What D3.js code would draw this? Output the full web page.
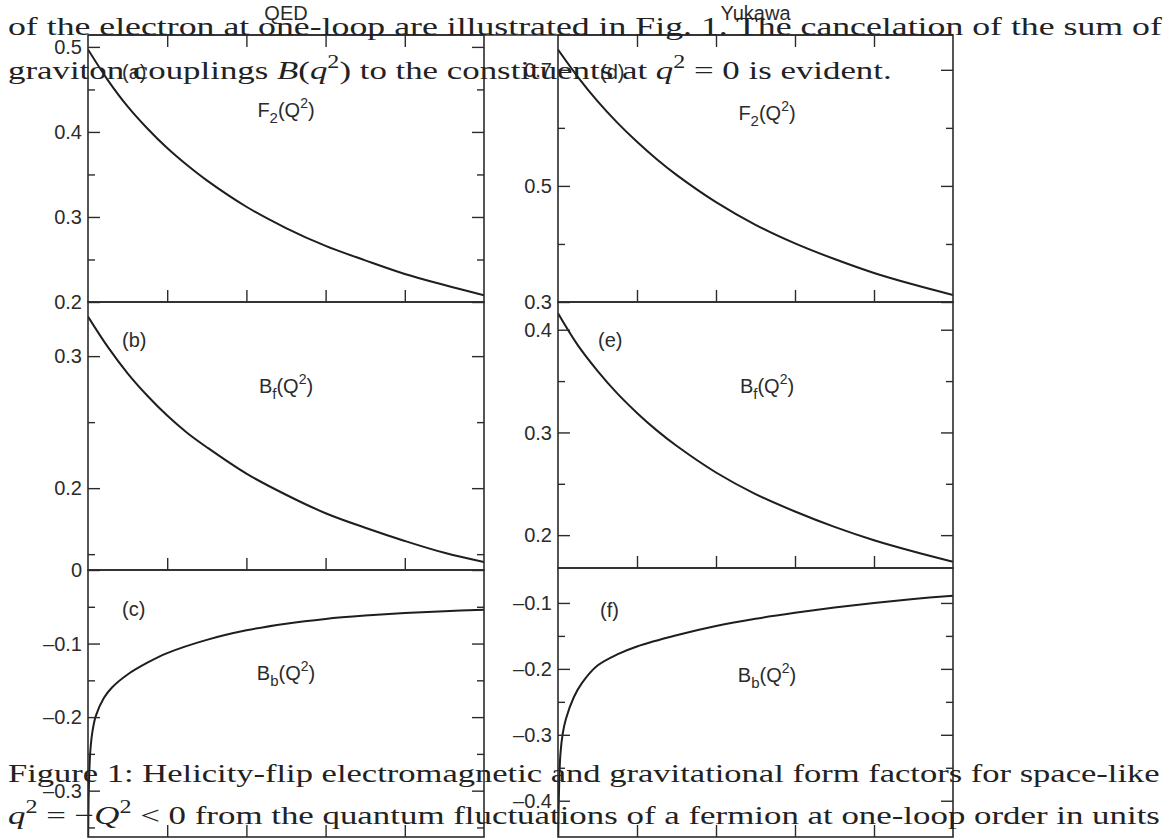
<!DOCTYPE html>
<html>
<head>
<meta charset="utf-8">
<script src="https://cdn.jsdelivr.net/npm/d3@7"></script>
<style>
  html, body { margin: 0; padding: 0; background: #fff; }
  svg { display: block; }
  .axis-text { font-family: "Liberation Sans", Arial, sans-serif; font-size: 20px; fill: #2b2b2b; }
  .body-text { font-family: "Liberation Serif", "Times New Roman", serif; font-size: 26px; fill: #222; }
</style>
</head>
<body>
<svg id="chart" width="1173" height="838"></svg>
<script>
//data
const qGrid = [0, 0.25, 0.5, 0.75, 1, 1.25, 1.5, 2, 2.5, 3, 3.5, 4, 4.5, 5];
const f2QED = [0.497, 0.461, 0.430, 0.404, 0.381, 0.361, 0.343, 0.312, 0.287, 0.266, 0.249, 0.233, 0.220, 0.208];
const bfQED = [0.330, 0.307, 0.287, 0.270, 0.255, 0.242, 0.231, 0.211, 0.195, 0.181, 0.170, 0.160, 0.151, 0.144];
const f2Yukawa = [0.735, 0.688, 0.646, 0.609, 0.576, 0.546, 0.519, 0.472, 0.433, 0.401, 0.374, 0.350, 0.330, 0.312];
const bfYukawa = [0.416, 0.385, 0.360, 0.338, 0.319, 0.302, 0.287, 0.261, 0.240, 0.223, 0.208, 0.195, 0.184, 0.174];

const qGridB = [0.002, 0.01, 0.03, 0.06, 0.1, 0.2, 0.3, 0.5, 0.75, 1, 1.5, 2, 2.5, 3, 3.5, 4, 4.5, 5];
const bbQED = [-0.37, -0.30, -0.245, -0.217, -0.198, -0.174, -0.160, -0.142, -0.126, -0.113, -0.095, -0.082, -0.073, -0.0665, -0.062, -0.0585, -0.056, -0.054];
const bbYukawa = [-0.47, -0.40, -0.33, -0.298, -0.276, -0.243, -0.222, -0.195, -0.178, -0.166, -0.149, -0.135, -0.124, -0.115, -0.107, -0.100, -0.094, -0.089];

const xDomain = [0, 5];
const xTicks = [1, 2, 3, 4];

// panels a..f
const panelLetters = ['(a)', '(b)', '(c)', '(d)', '(e)', '(f)'];
const panelNames = ['F', 'B', 'B', 'F', 'B', 'B'];
const panelSubs = ['2', 'f', 'b', '2', 'f', 'b'];
const columnTitles = ['QED', 'Yukawa'];
const yDomains = [[0.2, 0.514], [0.138, 0.341], [-0.363, 0], [0.3, 0.76], [0.168, 0.427], [-0.455, -0.047]];
const yMajors = [[0.2, 0.3, 0.4, 0.5], [0.2, 0.3], [-0.3, -0.2, -0.1, 0], [0.3, 0.5, 0.7], [0.2, 0.3, 0.4], [-0.4, -0.3, -0.2, -0.1]];
const yMinors = [[0.25, 0.35, 0.45], [0.15, 0.25], [-0.35, -0.25, -0.15, -0.05], [0.4, 0.6], [0.25, 0.35], [-0.35, -0.25, -0.15]];
const curveX = [qGrid, qGrid, qGridB, qGrid, qGrid, qGridB];
const curveY = [f2QED, bfQED, bbQED, f2Yukawa, bfYukawa, bbYukawa];

// page text around the figure
const textTop1 = [['of the electron at one-loop are illustrated in Fig. 1. The cancelation of the sum of']];
const textTop2 = [['graviton couplings '], ['B', 'i'], ['('], ['q', 'i'], ['2', 'sup'], [') to the constituents at '], ['q', 'i'], ['2', 'sup'], [' = 0 is evident.']];
const textBot1 = [['Figure 1:  Helicity-flip electromagnetic and gravitational form factors for space-like']];
const textBot2 = [['q', 'i'], ['2', 'sup'], [' = −'], ['Q', 'i'], ['2', 'sup'], [' < 0 from the quantum fluctuations of a fermion at one-loop order in units']];

//layout
const cols = [{ x0: 88, x1: 484 }, { x0: 558, x1: 953 }];
const rows = [[35, 302, 570, 837], [35, 302, 568, 837]];
const letterPos = [[34, 44], [34, 45], [34, 46], [42, 44], [40, 45], [42, 49]];
const namePos = [[286, 82], [286, 91], [286, 110], [767, 85], [767, 91], [767, 114]];
const ink = '#2b2b2b';
const majorLen = 12, minorLen = 7;

const svg = d3.select('#chart');
const defs = svg.append('defs');
const fmt = d => d === 0 ? '0' : (d < 0 ? '–' : '') + d3.format('.1f')(Math.abs(d));

//panels
for (let i = 0; i < 6; i++) {
  const c = Math.floor(i / 3), r = i % 3;
  const { x0, x1 } = cols[c];
  const top = rows[c][r], bot = rows[c][r + 1];

  const x = d3.scaleLinear().domain(xDomain).range([x0, x1]);
  const y = d3.scaleLinear().domain(yDomains[i]).range([bot, top]);

  const g = svg.append('g').attr('class', 'panel');

  defs.append('clipPath').attr('id', 'clip' + i)
    .append('rect').attr('x', x0).attr('y', top).attr('width', x1 - x0).attr('height', bot - top);

  // curve
  const pts = curveX[i].map((q, k) => [q, curveY[i][k]]);
  g.append('path')
    .datum(pts)
    .attr('clip-path', `url(#clip${i})`)
    .attr('fill', 'none')
    .attr('stroke', '#1e1e1e')
    .attr('stroke-width', 2)
    .attr('d', d3.line().x(d => x(d[0])).y(d => y(d[1])).curve(d3.curveCatmullRom.alpha(0.5)));

  // y axis left + right, ticks inward
  const left = g.append('g').attr('transform', `translate(${x0},0)`)
    .call(d3.axisRight(y).tickValues(yMajors[i]).tickSize(majorLen).tickFormat(''));
  const right = g.append('g').attr('transform', `translate(${x1},0)`)
    .call(d3.axisLeft(y).tickValues(yMajors[i]).tickSize(majorLen).tickFormat(''));
  const leftMinor = g.append('g').attr('transform', `translate(${x0},0)`)
    .call(d3.axisRight(y).tickValues(yMinors[i]).tickSize(minorLen).tickFormat(''));
  const rightMinor = g.append('g').attr('transform', `translate(${x1},0)`)
    .call(d3.axisLeft(y).tickValues(yMinors[i]).tickSize(minorLen).tickFormat(''));

  // x ticks at the bottom of every panel, also at the top of the first row
  const xb = g.append('g').attr('transform', `translate(0,${bot})`)
    .call(d3.axisTop(x).tickValues(xTicks).tickSize(majorLen).tickFormat(''));
  const axes = [left, right, leftMinor, rightMinor, xb];
  if (r === 0) {
    axes.push(g.append('g').attr('transform', `translate(0,${top})`)
      .call(d3.axisBottom(x).tickValues(xTicks).tickSize(majorLen).tickFormat('')));
  }
  axes.forEach(a => {
    a.select('.domain').remove();
    a.selectAll('line').attr('stroke', ink).attr('stroke-width', 1.4);
  });

  // tick labels
  g.selectAll('.ylab')
    .data(yMajors[i])
    .join('text')
    .attr('class', 'axis-text')
    .attr('x', x0 - 6)
    .attr('y', d => y(d))
    .attr('dy', '0.36em')
    .attr('text-anchor', 'end')
    .text(fmt);

  // frame
  g.append('rect')
    .attr('x', x0).attr('y', top)
    .attr('width', x1 - x0).attr('height', bot - top)
    .attr('fill', 'none')
    .attr('stroke', ink)
    .attr('stroke-width', 1.6);

  // panel letter
  g.append('text')
    .attr('class', 'axis-text')
    .attr('x', x0 + letterPos[i][0])
    .attr('y', top + letterPos[i][1])
    .text(panelLetters[i]);

  // function name, e.g. F2(Q2)
  const nm = g.append('text')
    .attr('class', 'axis-text')
    .attr('x', namePos[i][0])
    .attr('y', top + namePos[i][1])
    .attr('text-anchor', 'middle');
  nm.append('tspan').text(panelNames[i]);
  nm.append('tspan').attr('font-size', 15).attr('dy', 6).text(panelSubs[i]);
  nm.append('tspan').attr('dy', -6).text('(Q');
  nm.append('tspan').attr('font-size', 14).attr('dy', -9).text('2');
  nm.append('tspan').attr('dy', 9).text(')');
}

// column titles
columnTitles.forEach((t, c) => {
  svg.append('text')
    .attr('class', 'axis-text')
    .attr('font-size', 19)
    .attr('x', (cols[c].x0 + cols[c].x1) / 2)
    .attr('y', 20)
    .attr('text-anchor', 'middle')
    .text(t);
});

// top rule runs across both columns
svg.append('line')
  .attr('x1', cols[0].x0).attr('x2', cols[1].x1)
  .attr('y1', rows[0][0]).attr('y2', rows[0][0])
  .attr('stroke', ink).attr('stroke-width', 1.6);

//page text, stretched to the measured line width
function bodyLine(parts, y, xa, xb) {
  const t = svg.append('text').attr('class', 'body-text');
  let shifted = false;
  parts.forEach(([s, st]) => {
    const ts = t.append('tspan').text(s);
    if (st === 'i') ts.attr('font-style', 'italic');
    if (st === 'sup') {
      ts.attr('font-size', 18).attr('dy', -11);
      shifted = true;
    } else if (shifted) {
      ts.attr('dy', 11);
      shifted = false;
    }
  });
  const w = t.node().getBBox().width;
  t.attr('transform', `translate(${xa},${y}) scale(${(xb - xa) / w},1)`);
}

bodyLine(textTop1, 35, 8, 1163);
bodyLine(textTop2, 79, 8, 892);
bodyLine(textBot1, 782, 8, 1160);
bodyLine(textBot2, 824, 8, 1160);
</script>
</body>
</html>
